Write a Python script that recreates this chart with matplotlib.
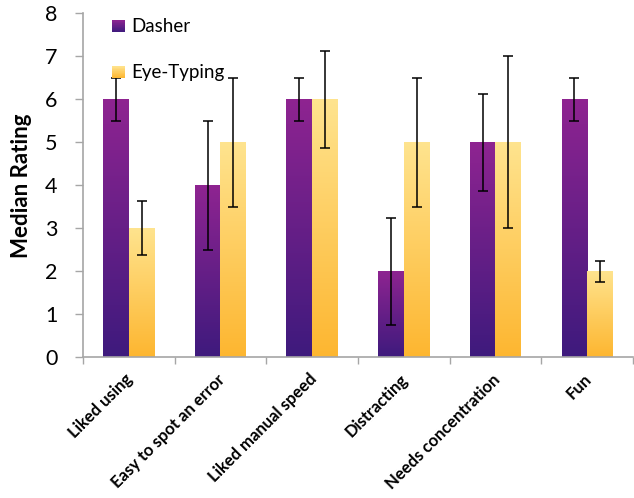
import numpy as np
import matplotlib
matplotlib.use("Agg")
import matplotlib.pyplot as plt
from matplotlib.colors import LinearSegmentedColormap, to_rgb
from matplotlib.patches import Rectangle
from matplotlib.legend_handler import HandlerBase
from matplotlib.transforms import ScaledTranslation

categories = ["Liked using", "Easy to spot an error", "Liked manual speed",
              "Distracting", "Needs concentration", "Fun"]
dasher = [6, 4, 6, 2, 5, 6]
dasher_err = [0.5, 1.5, 0.5, 1.25, 1.13, 0.5]
eye = [3, 5, 6, 5, 5, 2]
eye_err = [0.63, 1.5, 1.13, 1.5, 2.0, 0.25]
series_names = ["Dasher", "Eye-Typing"]

dasher_cols = ("#3E1A7D", "#8F2491")   # bottom, top
eye_cols = ("#FDB630", "#FFE48F")

plt.rcParams['font.family'] = ['Lato', 'DejaVu Sans']

fig = plt.figure(figsize=(6.34, 4.98), dpi=100)
ax = fig.add_axes([83/634, 1-357.3/498, 550/634, (357.3-13.3)/498])

x = np.arange(len(categories))
w = 0.28

def grad_bars(xpos, vals, cols):
    cmap = LinearSegmentedColormap.from_list("g", list(cols))
    grad = np.linspace(0, 1, 256).reshape(-1, 1)
    bars = ax.bar(xpos, vals, width=w, color="none", edgecolor="none", zorder=2)
    for b in bars:
        x0 = b.get_x(); h = b.get_height()
        im = ax.imshow(grad, cmap=cmap, origin="lower", aspect="auto",
                       extent=[x0, x0 + b.get_width(), 0, h], zorder=2,
                       vmin=0, vmax=1)
        im.set_clip_path(b)
    return bars

grad_bars(x - w/2, dasher, dasher_cols)
grad_bars(x + w/2, eye, eye_cols)

ax.errorbar(x - w/2, dasher, yerr=dasher_err, fmt="none", ecolor="black",
            elinewidth=1.1, capsize=3.8, capthick=1.1, zorder=3)
ax.errorbar(x + w/2, eye, yerr=eye_err, fmt="none", ecolor="black",
            elinewidth=1.1, capsize=3.8, capthick=1.1, zorder=3)

ax.set_xlim(-0.5, len(categories) - 0.5)
ax.set_ylim(0, 8)
ax.set_yticks(range(0, 9))
ax.tick_params(axis="y", labelsize=15.5, length=6, color="#A6A6A6", pad=12.5, width=1)
ax.set_xticks(x)
ax.set_xticklabels(categories, rotation=45, ha="right", rotation_mode="anchor",
                   fontsize=12, fontweight="bold")
ax.tick_params(axis="x", length=0, pad=10)
off = ScaledTranslation(-4/100, 0, fig.dpi_scale_trans)
for lab in ax.get_xticklabels():
    lab.set_transform(lab.get_transform() + off)
ax.set_xticks(np.arange(-0.5, len(categories), 1.0), minor=True)
ax.tick_params(axis="x", which="minor", length=5, color="#A6A6A6", width=1)
for s in ["top", "right"]:
    ax.spines[s].set_visible(False)
for s in ["left", "bottom"]:
    ax.spines[s].set_color("#A6A6A6")
    ax.spines[s].set_linewidth(1.2)
ax.set_ylabel("Median Rating", fontsize=16, fontweight="bold", labelpad=9)


class GradHandler(HandlerBase):
    def __init__(self, cols):
        super().__init__()
        self.cols = cols

    def create_artists(self, legend, orig_handle, xdescent, ydescent,
                       width, height, fontsize, trans):
        n = 20
        c0 = np.array(to_rgb(self.cols[0])); c1 = np.array(to_rgb(self.cols[1]))
        size = min(width, height) * 0.95
        x0 = xdescent + width - size
        arts = []
        for i in range(n):
            t = i / (n - 1)
            r = Rectangle((x0, -ydescent + size * i / n), size, size / n + 0.05,
                          facecolor=c0 * (1 - t) + c1 * t, edgecolor="none",
                          transform=trans)
            arts.append(r)
        return arts

h1 = Rectangle((0, 0), 1, 1)
h2 = Rectangle((0, 0), 1, 1)
ax.legend([h1, h2], series_names, loc="upper left",
          bbox_to_anchor=(0.018, 1.035), frameon=False, fontsize=13.5,
          labelspacing=1.55, handlelength=0.8, handletextpad=0.35,
          handler_map={h1: GradHandler(dasher_cols), h2: GradHandler(eye_cols)})

fig.savefig("out.png", dpi=100)
